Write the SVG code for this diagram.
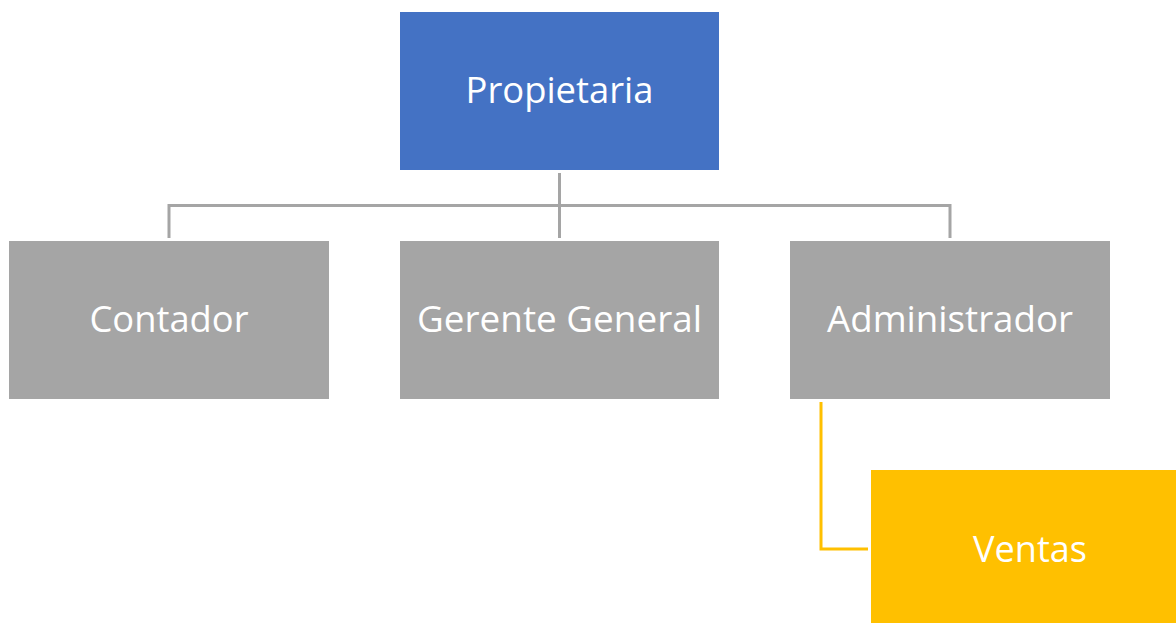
<svg xmlns="http://www.w3.org/2000/svg" width="1176" height="623" viewBox="0 0 1176 623">
<style>
.lbl{font-family:"Open Sans","Noto Sans","Liberation Sans",sans-serif;font-size:37px;fill:#ffffff;text-anchor:middle}
.gray{fill:#A5A5A5}
.conn{fill:none;stroke:#A5A5A5;stroke-width:3}
</style>
<rect width="1176" height="623" fill="#ffffff"/>
<g id="connectors">
<path class="conn" d="M559.5,173 V238 M169,205.5 H950 M169,204 V238 M950,204 V238"/>
<path fill="none" stroke="#FFC000" stroke-width="3" d="M821,402 V549 H868"/>
</g>
<g id="propietaria">
<rect x="400" y="12" width="319" height="158" fill="#4472C4"/>
<text class="lbl" x="559.5" y="103" textLength="188" lengthAdjust="spacingAndGlyphs">Propietaria</text>
</g>
<g id="contador">
<rect class="gray" x="9" y="241" width="320" height="158"/>
<text class="lbl" x="169" y="332" textLength="159" lengthAdjust="spacingAndGlyphs">Contador</text>
</g>
<g id="gerente">
<rect class="gray" x="400" y="241" width="319" height="158"/>
<text class="lbl" x="559.5" y="332" textLength="285" lengthAdjust="spacingAndGlyphs">Gerente General</text>
</g>
<g id="administrador">
<rect class="gray" x="790" y="241" width="320" height="158"/>
<text class="lbl" x="950" y="332" textLength="246" lengthAdjust="spacingAndGlyphs">Administrador</text>
</g>
<g id="ventas">
<rect x="871" y="470" width="305" height="153" fill="#FFC000"/>
<text class="lbl" x="1030" y="562" textLength="114" lengthAdjust="spacingAndGlyphs">Ventas</text>
</g>
</svg>
